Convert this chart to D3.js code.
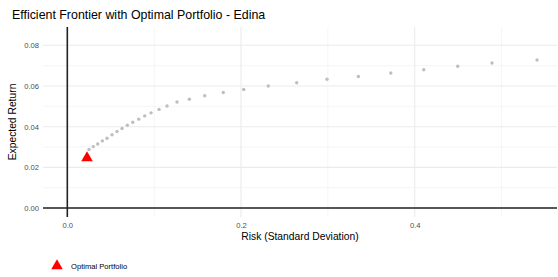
<!DOCTYPE html>
<html>
<head>
<meta charset="utf-8">
<script src="https://cdn.jsdelivr.net/npm/d3@7"></script>
<style>
  body { margin: 0; background: #fff; }
  svg { display: block; font-family: "Liberation Sans", Arial, sans-serif; }
</style>
</head>
<body>
<div id="okvir"></div>
<script>
// frontier points (risk = std dev, ret = expected return)
const risk = [0.0250, 0.0299, 0.0350, 0.0403, 0.0457, 0.0515, 0.0572, 0.0630, 0.0691, 0.0753,
              0.0822, 0.0891, 0.0964, 0.1056, 0.1148, 0.1263, 0.1405, 0.1582, 0.1796, 0.2031,
              0.2314, 0.2641, 0.2990, 0.3351, 0.3724, 0.4104, 0.4495, 0.4890, 0.5408];
const ret  = [0.0288, 0.0302, 0.0315, 0.0330, 0.0343, 0.0360, 0.0376, 0.0391, 0.0407, 0.0422,
              0.0437, 0.0453, 0.0468, 0.0485, 0.0502, 0.0521, 0.0535, 0.0552, 0.0568, 0.0583,
              0.0600, 0.0616, 0.0633, 0.0647, 0.0664, 0.0680, 0.0697, 0.0713, 0.0728];
const optimal = { risk: 0.0227, ret: 0.0246 };

const xTicks = [0, 0.2, 0.4];
const xMinor = [0.1, 0.3, 0.5];
const yTicks = [0, 0.02, 0.04, 0.06, 0.08];
const yMinor = [0.01, 0.03, 0.05, 0.07];

const podatci = risk.map((r, i) => ({ risk: r, ret: ret[i] }));

const dim = {
  sirina: 558, visina: 277,
  margine: { top: 27, right: 1, bottom: 60, left: 43 }
};
dim.grSirina = dim.sirina - dim.margine.left - dim.margine.right;
dim.grVisina = dim.visina - dim.margine.top - dim.margine.bottom;

const svg = d3.select("#okvir").append("svg")
  .attr("width", dim.sirina)
  .attr("height", dim.visina);

const g = svg.append("g")
  .attr("transform", `translate(${dim.margine.left},${dim.margine.top})`);

const xSkala = d3.scaleLinear().domain([-0.028, 0.5638]).range([0, dim.grSirina]);
const ySkala = d3.scaleLinear().domain([-0.0044, 0.0890]).range([dim.grVisina, 0]);

// grid
g.selectAll(".xmin").data(xMinor).join("line")
  .attr("x1", d => xSkala(d)).attr("x2", d => xSkala(d))
  .attr("y1", 0).attr("y2", dim.grVisina)
  .attr("stroke", "#f2f2f2").attr("stroke-width", 0.8);
g.selectAll(".ymin").data(yMinor).join("line")
  .attr("y1", d => ySkala(d)).attr("y2", d => ySkala(d))
  .attr("x1", 0).attr("x2", dim.grSirina)
  .attr("stroke", "#f2f2f2").attr("stroke-width", 0.8);
g.selectAll(".xmaj").data(xTicks).join("line")
  .attr("x1", d => xSkala(d)).attr("x2", d => xSkala(d))
  .attr("y1", 0).attr("y2", dim.grVisina)
  .attr("stroke", "#ebebeb").attr("stroke-width", 1.1);
g.selectAll(".ymaj").data(yTicks).join("line")
  .attr("y1", d => ySkala(d)).attr("y2", d => ySkala(d))
  .attr("x1", 0).attr("x2", dim.grSirina)
  .attr("stroke", "#ebebeb").attr("stroke-width", 1.1);

// reference lines at 0
g.append("line")
  .attr("x1", 0).attr("x2", dim.grSirina)
  .attr("y1", ySkala(0)).attr("y2", ySkala(0))
  .attr("stroke", "#222").attr("stroke-width", 1.6);
g.append("line")
  .attr("x1", xSkala(0)).attr("x2", xSkala(0))
  .attr("y1", 0).attr("y2", dim.grVisina)
  .attr("stroke", "#222").attr("stroke-width", 1.6);

// frontier points
g.selectAll(".tocka").data(podatci).join("circle")
  .attr("cx", d => xSkala(d.risk))
  .attr("cy", d => ySkala(d.ret))
  .attr("r", 1.7)
  .attr("fill", "#bebebe");

// optimal portfolio
const trokut = d3.symbol().type(d3.symbolTriangle).size(58);
g.append("path")
  .attr("d", trokut())
  .attr("transform", `translate(${xSkala(optimal.risk)},${ySkala(optimal.ret)})`)
  .attr("fill", "red");

// axes
const xOs = g.append("g")
  .attr("transform", `translate(0,${dim.grVisina})`)
  .call(d3.axisBottom(xSkala).tickValues(xTicks).tickFormat(d3.format(".1f")).tickSize(0).tickPadding(6));
const yOs = g.append("g")
  .call(d3.axisLeft(ySkala).tickValues(yTicks).tickFormat(d3.format(".2f")).tickSize(0).tickPadding(4));
[xOs, yOs].forEach(os => {
  os.select(".domain").remove();
  os.selectAll("text")
    .attr("fill", "#4d4d4d")
    .style("font-size", "7.6px")
    .style("font-family", "Liberation Sans, Arial, sans-serif");
});

// title & labels
svg.append("text")
  .attr("x", 12).attr("y", 19)
  .attr("fill", "#000")
  .style("font-size", "12.4px")
  .text("Efficient Frontier with Optimal Portfolio - Edina");

svg.append("text")
  .attr("x", dim.margine.left + dim.grSirina / 2)
  .attr("y", 240)
  .attr("text-anchor", "middle")
  .attr("fill", "#000")
  .style("font-size", "10.3px")
  .text("Risk (Standard Deviation)");

svg.append("text")
  .attr("transform", `translate(16,${dim.margine.top + dim.grVisina / 2}) rotate(-90)`)
  .attr("text-anchor", "middle")
  .attr("fill", "#000")
  .style("font-size", "10.3px")
  .text("Expected Return");

// legend
const legenda = svg.append("g").attr("transform", "translate(57,266)");
legenda.append("path")
  .attr("d", trokut())
  .attr("fill", "red");
legenda.append("text")
  .attr("x", 14).attr("y", 3)
  .attr("fill", "#000")
  .style("font-size", "7.6px")
  .text("Optimal Portfolio");
</script>
</body>
</html>
